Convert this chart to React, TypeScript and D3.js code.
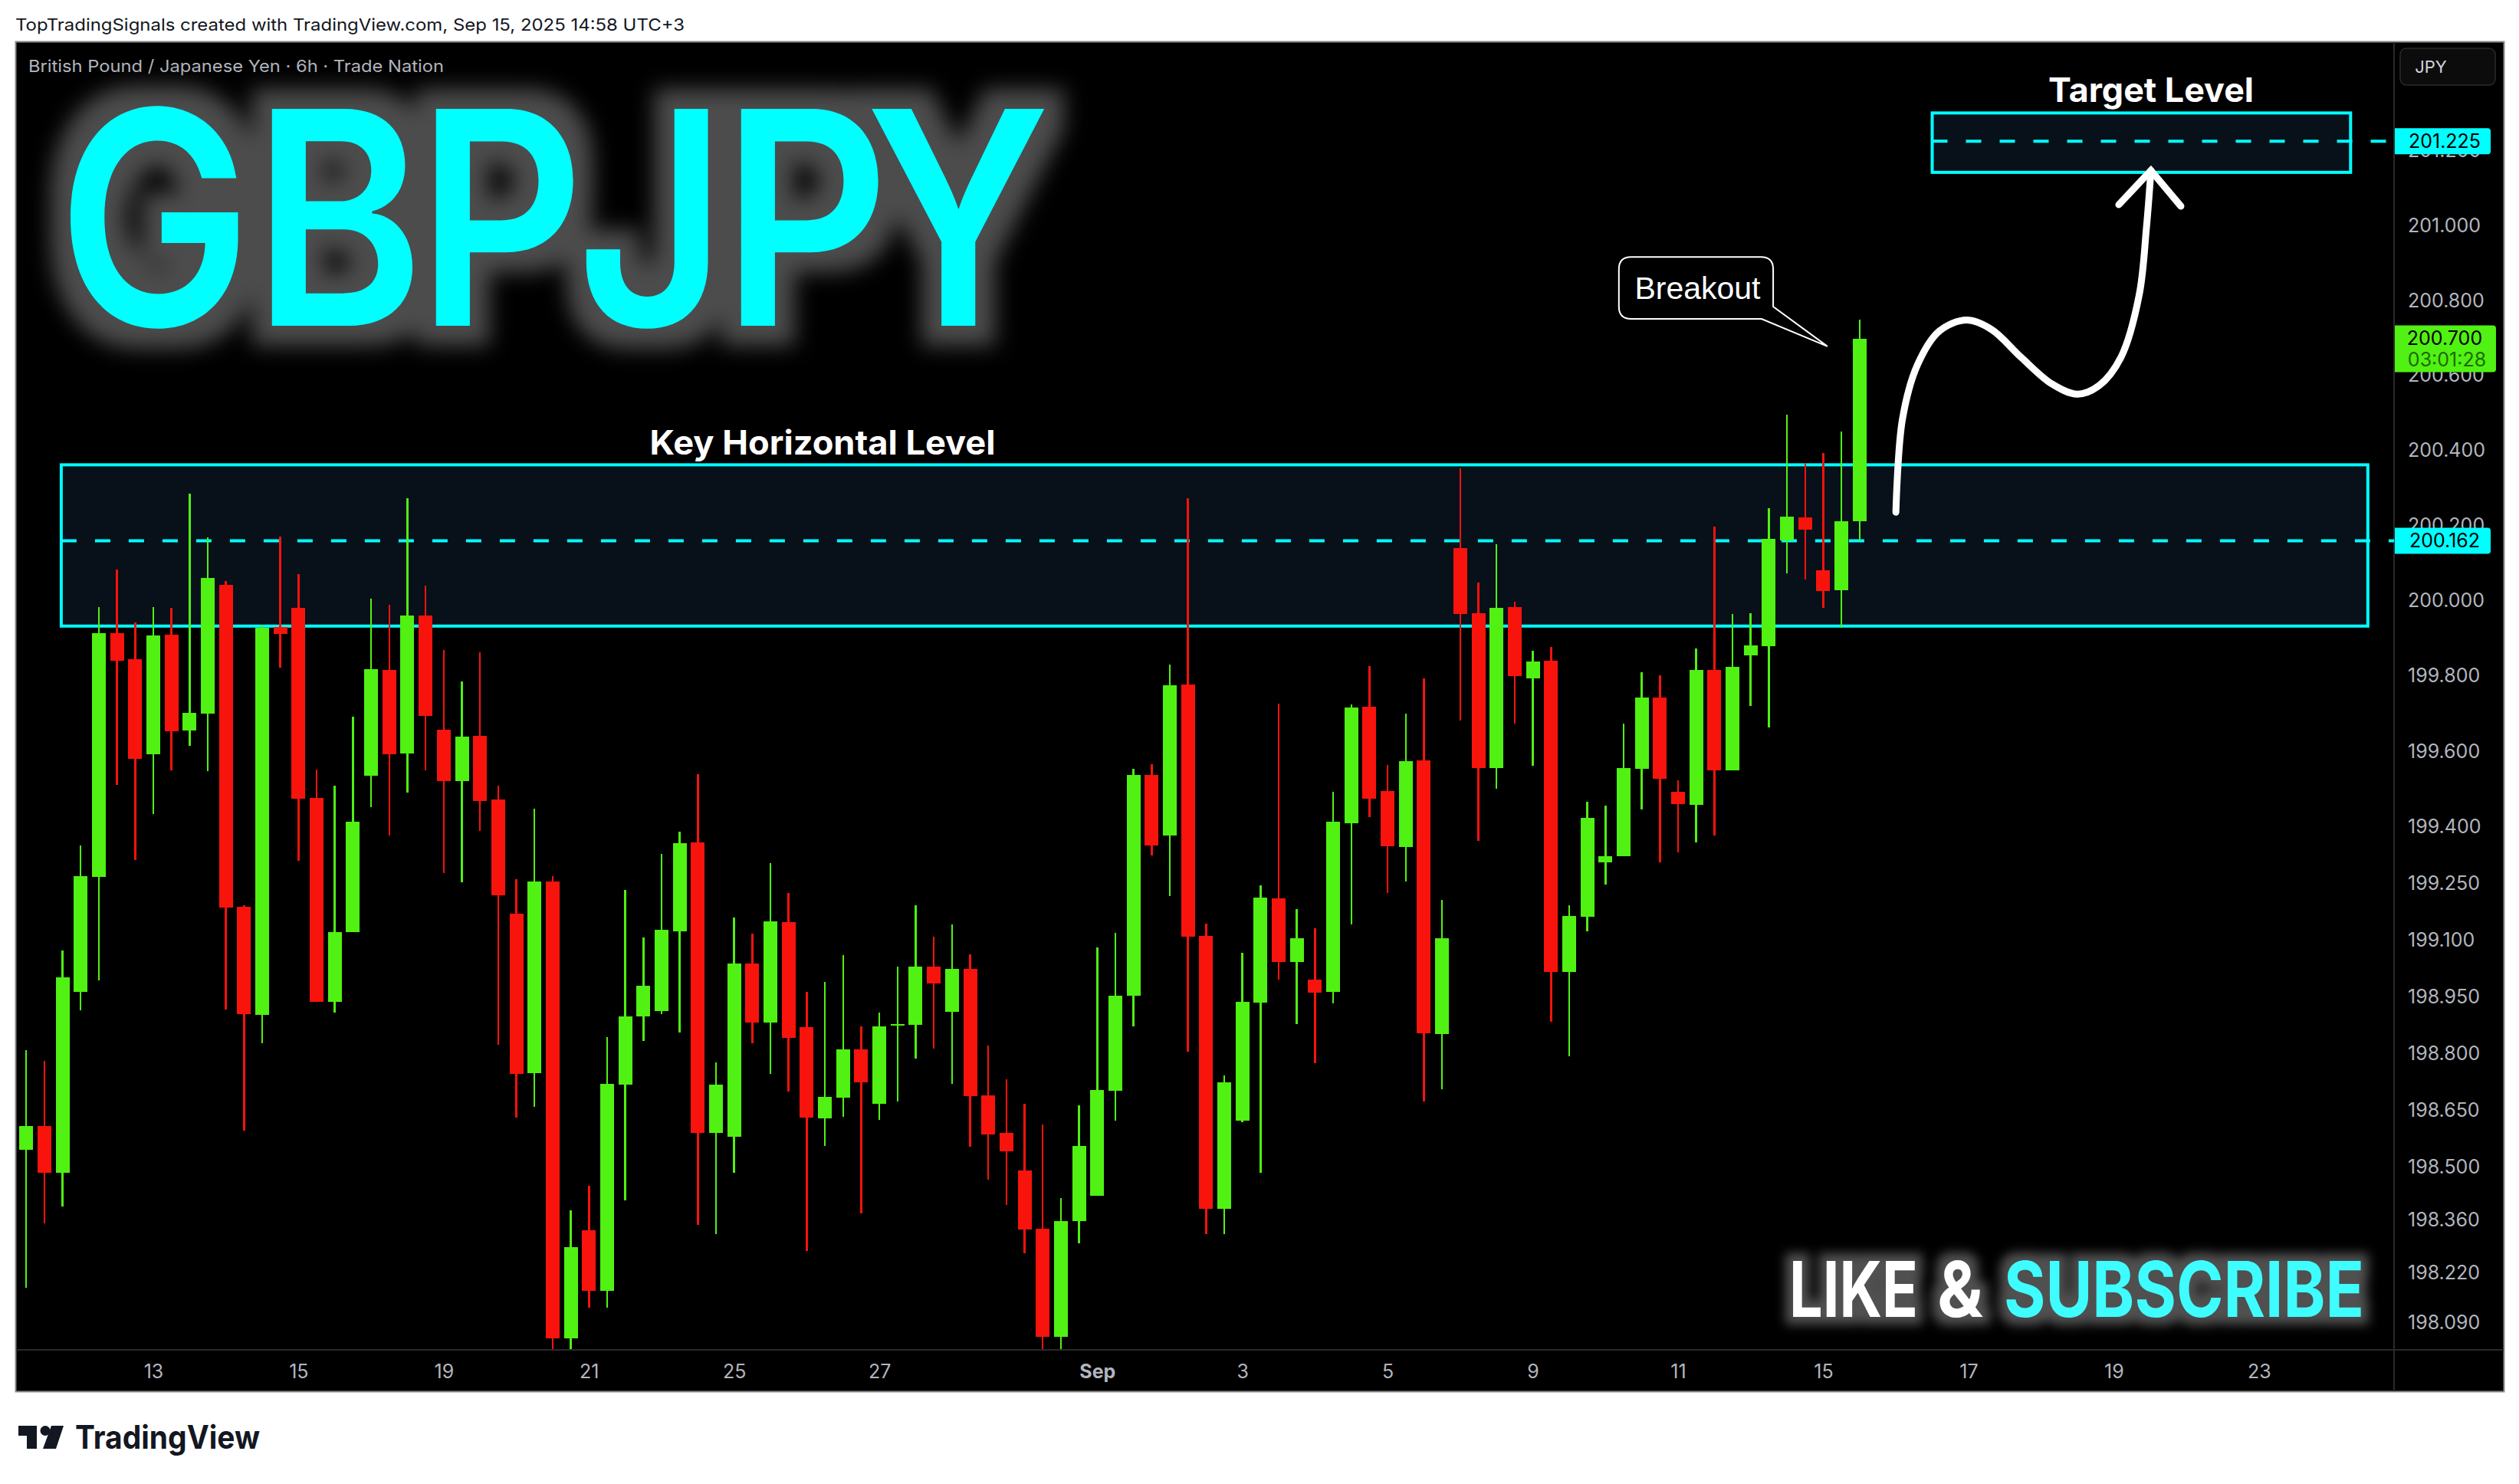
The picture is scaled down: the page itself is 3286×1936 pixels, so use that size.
import { useEffect, useRef } from 'react';
import * as d3 from 'd3';

const WIDTH = 3286;
const HEIGHT = 1936;

// 6h candles, oldest first
const opens = [
  198.542, 198.605, 198.481, 198.962, 199.268, 199.916, 199.847, 199.594, 199.912, 199.657, 199.702, 200.044, 199.189, 198.901, 199.932, 199.983, 199.477, 198.936, 199.121, 199.537, 199.818, 199.596, 199.963, 199.659, 199.522, 199.643,
  199.473, 199.170, 198.746, 199.256, 198.040, 198.328, 198.167, 198.715, 198.897, 198.911, 199.123, 199.360, 198.587, 198.577, 199.038, 198.881, 199.148, 198.869, 198.626, 198.681, 198.809, 198.664, 198.872, 198.875, 199.030, 198.909,
  199.024, 198.687, 198.587, 198.487, 198.332, 198.044, 198.352, 198.420, 198.699, 198.952, 199.539, 199.377, 199.779, 199.111, 198.385, 198.619, 198.934, 199.211, 199.042, 198.995, 198.962, 199.410, 199.720, 199.496, 199.347, 199.577,
  198.850, 200.142, 199.969, 199.557, 199.985, 199.796, 199.843, 199.015, 199.162, 199.306, 199.322, 199.555, 199.745, 199.494, 199.459, 199.818, 199.551, 199.857, 199.881, 200.163, 200.224, 200.083, 200.030, 200.214,
];
const highs = [
  198.807, 198.779, 199.072, 199.352, 199.985, 200.085, 199.945, 199.985, 199.983, 200.287, 200.171, 200.055, 199.193, 199.938, 200.173, 200.073, 199.553, 199.510, 199.694, 200.008, 199.992, 200.275, 200.042, 199.871, 199.787, 199.865,
  199.510, 199.262, 199.449, 199.270, 198.381, 198.446, 198.842, 199.234, 199.107, 199.329, 199.388, 199.541, 198.775, 199.160, 199.117, 199.305, 199.225, 198.962, 198.989, 199.060, 198.870, 198.907, 199.030, 199.193, 199.109, 199.142,
  199.062, 198.820, 198.730, 198.664, 198.609, 198.413, 198.660, 199.081, 199.119, 199.555, 199.567, 199.832, 200.275, 199.144, 198.740, 199.066, 199.246, 199.728, 199.183, 199.132, 199.494, 199.726, 199.828, 199.565, 199.702, 199.796,
  199.207, 200.355, 200.051, 200.153, 200.000, 199.869, 199.879, 199.193, 199.467, 199.457, 199.675, 199.812, 199.804, 199.524, 199.875, 200.200, 199.967, 199.969, 200.248, 200.497, 200.369, 200.395, 200.453, 200.751,
];
const lows = [
  198.175, 198.346, 198.391, 198.913, 198.993, 199.512, 199.313, 199.435, 199.551, 199.616, 199.549, 198.915, 198.593, 198.826, 199.824, 199.311, 198.936, 198.907, 199.121, 199.453, 199.377, 199.492, 199.551, 199.278, 199.254, 199.390,
  198.822, 198.628, 198.656, 198.012, 198.012, 198.122, 198.122, 198.407, 198.832, 198.903, 198.854, 198.342, 198.318, 198.481, 198.826, 198.744, 198.697, 198.273, 198.552, 198.630, 198.373, 198.621, 198.670, 198.785, 198.811, 198.717,
  198.550, 198.462, 198.395, 198.267, 198.012, 198.012, 198.293, 198.420, 198.619, 198.870, 199.325, 199.217, 198.803, 198.318, 198.318, 198.615, 198.481, 198.995, 198.877, 198.772, 198.932, 199.142, 199.426, 199.225, 199.256, 198.670,
  198.703, 199.683, 199.364, 199.502, 199.675, 199.563, 198.883, 198.791, 199.123, 199.248, 199.322, 199.447, 199.306, 199.333, 199.360, 199.377, 199.551, 199.722, 199.665, 200.075, 200.059, 199.983, 199.930, 200.163,
];
const closes = [
  198.605, 198.481, 199.001, 199.270, 199.916, 199.843, 199.581, 199.910, 199.655, 199.704, 200.063, 199.187, 198.903, 199.930, 199.914, 199.475, 198.936, 199.121, 199.414, 199.820, 199.594, 199.963, 199.696, 199.522, 199.641, 199.469,
  199.219, 198.744, 199.256, 198.040, 198.283, 198.167, 198.717, 198.897, 198.979, 199.127, 199.358, 198.587, 198.715, 199.038, 198.881, 199.150, 198.840, 198.628, 198.683, 198.809, 198.722, 198.870, 198.877, 199.030, 198.985, 199.024,
  198.685, 198.583, 198.538, 198.330, 198.044, 198.352, 198.552, 198.701, 198.952, 199.539, 199.352, 199.777, 199.109, 198.385, 198.722, 198.936, 199.213, 199.042, 199.105, 198.960, 199.414, 199.718, 199.475, 199.350, 199.575, 198.852,
  199.105, 199.967, 199.557, 199.983, 199.802, 199.841, 199.015, 199.164, 199.424, 199.322, 199.557, 199.745, 199.528, 199.461, 199.818, 199.551, 199.826, 199.883, 200.167, 200.226, 200.191, 200.028, 200.214, 200.700,
];

const priceTicks = [201.2, 201, 200.8, 200.6, 200.4, 200.2, 200, 199.8, 199.6, 199.4, 199.25, 199.1, 198.95, 198.8, 198.65, 198.5, 198.36, 198.22, 198.09];
const timeTickBars = [7, 15, 23, 31, 39, 47, 59, 67, 75, 83, 91, 99, 107, 115, 123];
const timeTickLabels = ['13', '15', '19', '21', '25', '27', 'Sep', '3', '5', '9', '11', '15', '17', '19', '23'];

// drawn zones: [first bar, last bar], [top price, bottom price]
const keyZoneBars = [1.93, 129];
const keyZonePrices = [200.364, 199.935];
const keyLevel = 200.162;
const targetZoneBars = [105, 128.05];
const targetZonePrices = [201.3, 201.142];
const targetLevel = 201.225;
const lastPrice = 200.7;

// projected path: [bar, price]
const pathPoints: [number, number][] = [
  [103, 200.238], [103.36, 200.485], [104.2, 200.631], [105.4, 200.72], [106.9, 200.749], [108.27, 200.724], [109.9, 200.65],
  [111.6, 200.579], [113, 200.552], [114.2, 200.575], [115.4, 200.65], [116.4, 200.815], [116.8, 200.993], [117.05, 201.147],
];
const arrowHead: [number, number][] = [[115.28, 201.056], [117.05, 201.147], [118.7, 201.052]];

const GREEN = '#50f113';
const RED = '#f8130d';
const CYAN = '#00ffff';
const ZONE_FILL = '#08101a';
const AXIS_TEXT = '#b2b5be';
const SANS = 'Inter, "Liberation Sans", sans-serif';

// left edge of each title letter, so the string stays one text
const titleStarts = [75, 330, 544, 752, 942, 1129];
const TITLE_SQUEEZE = 0.87;

export default function App() {
  const svgRef = useRef<SVGSVGElement>(null);

  useEffect(() => {
    if (!svgRef.current) return;
    const svg = d3.select(svgRef.current);
    svg.selectAll('*').remove();

    const pane = { left: 21, right: 3123, top: 55, bottom: 1761, outerRight: 3266, outerBottom: 1815 };

    const x = d3.scaleLinear().domain([0, 101]).range([34.2, 2425.8]);
    const y = d3.scaleLinear().domain([201, 198]).range([294.5, 1765.7]);
    // the TradingView price axis is logarithmic, its labels sit a little lower near the bottom
    const axisY = d3.scaleLog().domain([201, 198.09]).range([294.5, 1725]);

    const defs = svg.append('defs');
    defs.append('clipPath').attr('id', 'pane-clip').append('rect')
      .attr('x', pane.left).attr('y', pane.top)
      .attr('width', pane.right - pane.left).attr('height', pane.bottom - pane.top);

    const addGlow = (id: string, radius: number, blur: number, tone: string) => {
      const f = defs.append('filter').attr('id', id)
        .attr('x', '-15%').attr('y', '-60%').attr('width', '130%').attr('height', '220%')
        .attr('color-interpolation-filters', 'sRGB');
      f.append('feMorphology').attr('in', 'SourceAlpha').attr('operator', 'dilate').attr('radius', radius).attr('result', 'fat');
      f.append('feGaussianBlur').attr('in', 'fat').attr('stdDeviation', blur).attr('result', 'soft');
      f.append('feFlood').attr('flood-color', tone).attr('result', 'tone');
      f.append('feComposite').attr('in', 'tone').attr('in2', 'soft').attr('operator', 'in').attr('result', 'halo');
      const merge = f.append('feMerge');
      merge.append('feMergeNode').attr('in', 'halo');
      merge.append('feMergeNode').attr('in', 'SourceGraphic');
    };
    addGlow('glow-big', 26, 14, '#4c4c4c');
    addGlow('glow-small', 10, 7, '#505050');

    // Frame
    svg.append('rect').attr('width', WIDTH).attr('height', HEIGHT).attr('fill', '#fff');
    svg.append('rect')
      .attr('x', pane.left - 0.5).attr('y', pane.top - 0.5)
      .attr('width', pane.outerRight - pane.left + 1).attr('height', pane.outerBottom - pane.top + 1)
      .attr('fill', '#000').attr('stroke', '#8a8a8a').attr('stroke-width', 2);
    svg.append('line').attr('x1', pane.right).attr('x2', pane.right).attr('y1', pane.top).attr('y2', pane.outerBottom)
      .attr('stroke', '#2a2a2a').attr('stroke-width', 2);
    svg.append('line').attr('x1', pane.left).attr('x2', pane.outerRight).attr('y1', pane.bottom).attr('y2', pane.bottom)
      .attr('stroke', '#2a2a2a').attr('stroke-width', 2);

    // Header texts
    svg.append('text').attr('x', 20).attr('y', 40).attr('fill', '#131722')
      .style('font-family', SANS).style('font-size', '22px')
      .attr('textLength', 873).attr('lengthAdjust', 'spacingAndGlyphs')
      .text('TopTradingSignals created with TradingView.com, Sep 15, 2025 14:58 UTC+3');
    svg.append('text').attr('x', 37).attr('y', 94).attr('fill', AXIS_TEXT)
      .style('font-family', SANS).style('font-size', '22px')
      .attr('textLength', 542).attr('lengthAdjust', 'spacingAndGlyphs')
      .text('British Pound / Japanese Yen · 6h · Trade Nation');

    // Big symbol title
    svg.append('g').attr('filter', 'url(#glow-big)').append('text')
      .attr('transform', `scale(${TITLE_SQUEEZE},1)`)
      .attr('x', titleStarts.map((v) => v / TITLE_SQUEEZE).join(' ')).attr('y', 425).attr('fill', CYAN)
      .style('font-family', SANS).style('font-size', '389px').style('font-weight', 600)
      .text('GBPJPY');

    // Zones under the candles
    const drawZone = (bars: number[], prices: number[]) => {
      svg.append('rect')
        .attr('x', x(bars[0])).attr('y', y(prices[0]))
        .attr('width', x(bars[1]) - x(bars[0])).attr('height', y(prices[1]) - y(prices[0]))
        .attr('fill', ZONE_FILL).attr('stroke', CYAN).attr('stroke-width', 4);
    };
    const drawLevel = (bar: number, price: number) => {
      svg.append('line')
        .attr('x1', x(bar)).attr('x2', pane.right).attr('y1', y(price)).attr('y2', y(price))
        .attr('stroke', CYAN).attr('stroke-width', 4).attr('stroke-dasharray', '20,24');
    };
    drawZone(keyZoneBars, keyZonePrices);
    drawLevel(keyZoneBars[0], keyLevel);
    drawZone(targetZoneBars, targetZonePrices);
    drawLevel(targetZoneBars[0], targetLevel);

    // Candles
    const candles = svg.append('g').attr('clip-path', 'url(#pane-clip)').attr('shape-rendering', 'crispEdges');
    const indices = d3.range(opens.length);
    const color = (i: number) => (closes[i] >= opens[i] ? GREEN : RED);
    candles.selectAll('.wick').data(indices).join('rect')
      .attr('class', 'wick')
      .attr('x', (i: number) => x(i) - 1.25).attr('width', 2.5)
      .attr('y', (i: number) => y(highs[i]))
      .attr('height', (i: number) => y(lows[i]) - y(highs[i]))
      .attr('fill', color);
    candles.selectAll('.body').data(indices).join('rect')
      .attr('class', 'body')
      .attr('x', (i: number) => x(i) - 9).attr('width', 18)
      .attr('y', (i: number) => y(Math.max(opens[i], closes[i])))
      .attr('height', (i: number) => Math.max(2, Math.abs(y(opens[i]) - y(closes[i]))))
      .attr('fill', color);

    // Zone captions
    svg.append('text').attr('x', 1073).attr('y', 593).attr('text-anchor', 'middle').attr('fill', '#fff')
      .style('font-family', SANS).style('font-size', '44px').style('font-weight', 700)
      .attr('textLength', 451).attr('lengthAdjust', 'spacingAndGlyphs')
      .text('Key Horizontal Level');
    svg.append('text').attr('x', 2806).attr('y', 133).attr('text-anchor', 'middle').attr('fill', '#fff')
      .style('font-family', SANS).style('font-size', '44px').style('font-weight', 700)
      .attr('textLength', 268).attr('lengthAdjust', 'spacingAndGlyphs')
      .text('Target Level');

    // Breakout callout
    const bx0 = x(87.74), bx1 = x(96.24), by0 = y(200.917), by1 = y(200.752);
    const r = 16;
    svg.append('path')
      .attr('d', `M${bx0 + r},${by0} H${bx1 - r} Q${bx1},${by0} ${bx1},${by0 + r} V${y(200.785)} L${x(99.23)},${y(200.679)} L${x(95.6)},${by1} H${bx0 + r} Q${bx0},${by1} ${bx0},${by1 - r} V${by0 + r} Q${bx0},${by0} ${bx0 + r},${by0} Z`)
      .attr('fill', '#000').attr('stroke', '#fff').attr('stroke-width', 2);
    svg.append('text').attr('x', (bx0 + bx1) / 2 + 2).attr('y', 390).attr('text-anchor', 'middle').attr('fill', '#fff')
      .style('font-family', '"Liberation Sans", sans-serif').style('font-size', '41px')
      .text('Breakout');

    // Projected move
    const line = d3.line<[number, number]>().x((d) => x(d[0])).y((d) => y(d[1]));
    svg.append('path').attr('d', line.curve(d3.curveCatmullRom)(pathPoints))
      .attr('fill', 'none').attr('stroke', '#fff').attr('stroke-width', 9).attr('stroke-linecap', 'round');
    svg.append('path').attr('d', line.curve(d3.curveLinear)(arrowHead))
      .attr('fill', 'none').attr('stroke', '#fff').attr('stroke-width', 9)
      .attr('stroke-linecap', 'round').attr('stroke-linejoin', 'miter');

    // Like & subscribe
    const promoParts: [string, number, number, string][] = [
      ['LIKE', 2334, 168, '#fff'], ['&', 2527, 60, '#fff'], ['SUBSCRIBE', 2614, 470, '#3ffdff'],
    ];
    const promoText = svg.append('g').attr('filter', 'url(#glow-small)');
    promoParts.forEach(([label, px, w, fill]) => {
      promoText.append('text')
        .attr('x', px).attr('y', 1718)
        .attr('textLength', w).attr('lengthAdjust', 'spacingAndGlyphs')
        .attr('fill', fill)
        .style('font-family', SANS).style('font-size', '100px').style('font-weight', 700)
        .text(label);
    });

    // Price axis
    const priceAxis = svg.append('g').attr('transform', `translate(${pane.right},0)`);
    priceAxis.call(d3.axisRight(axisY).tickValues(priceTicks).tickFormat(d3.format('.3f')).tickSize(0).tickPadding(18));
    priceAxis.select('.domain').remove();
    priceAxis.selectAll('text')
      .style('fill', AXIS_TEXT).style('font-size', '25px').style('font-family', SANS);

    // Time axis
    const timeAxis = svg.append('g').attr('transform', `translate(0,${pane.bottom})`);
    timeAxis.call(d3.axisBottom(x).tickValues(timeTickBars)
      .tickFormat((_d: d3.NumberValue, i: number) => timeTickLabels[i]).tickSize(0).tickPadding(19));
    timeAxis.select('.domain').remove();
    timeAxis.selectAll('text')
      .style('fill', AXIS_TEXT).style('font-size', '25px').style('font-family', SANS)
      .style('font-weight', (_d: unknown, i: number) => (timeTickLabels[i] === 'Sep' ? 700 : 400));

    // Price tags
    const drawTag = (price: number, label: string) => {
      const ty = y(price);
      svg.append('path')
        .attr('d', `M${pane.right + 1},${ty - 17} H3245 Q3249,${ty - 17} 3249,${ty - 13} V${ty + 13} Q3249,${ty + 17} 3245,${ty + 17} H${pane.right + 1} Z`)
        .attr('fill', CYAN);
      svg.append('text').attr('x', 3189).attr('y', ty + 9).attr('text-anchor', 'middle').attr('fill', '#000')
        .style('font-family', SANS).style('font-size', '25px').text(label);
    };
    drawTag(targetLevel, d3.format('.3f')(targetLevel));
    drawTag(keyLevel, d3.format('.3f')(keyLevel));

    const lastY = y(lastPrice);
    svg.append('path')
      .attr('d', `M${pane.right + 1},${lastY - 17} H3252 Q3256,${lastY - 17} 3256,${lastY - 13} V${lastY + 40} Q3256,${lastY + 44} 3252,${lastY + 44} H${pane.right + 1} Z`)
      .attr('fill', GREEN);
    svg.append('text').attr('x', 3189).attr('y', lastY + 8).attr('text-anchor', 'middle').attr('fill', '#000')
      .style('font-family', SANS).style('font-size', '25px').text(d3.format('.3f')(lastPrice));
    svg.append('text').attr('x', 3192).attr('y', lastY + 36).attr('text-anchor', 'middle').attr('fill', '#1f6a06')
      .style('font-family', SANS).style('font-size', '25px').text('03:01:28');

    // Currency button
    svg.append('rect').attr('x', 3131).attr('y', 63).attr('width', 124).attr('height', 48).attr('rx', 8)
      .attr('fill', '#0c0c0c').attr('stroke', '#2a2a2a').attr('stroke-width', 1.5);
    svg.append('text').attr('x', 3171).attr('y', 95).attr('text-anchor', 'middle').attr('fill', '#d1d4dc')
      .style('font-family', SANS).style('font-size', '22px').text('JPY');

    // TradingView logo
    const logo = svg.append('g').attr('fill', '#131722');
    logo.append('path').attr('d', 'M24,1860 H48 V1890 H35 V1873 H24 Z');
    logo.append('circle').attr('cx', 59).attr('cy', 1866.5).attr('r', 6.5);
    logo.append('path').attr('d', 'M67,1860 H83 L73,1890 H56 Z');
    logo.append('text').attr('x', 98).attr('y', 1890)
      .style('font-family', SANS).style('font-size', '42px').style('font-weight', 700)
      .attr('textLength', 241).attr('lengthAdjust', 'spacingAndGlyphs')
      .text('TradingView');
  }, []);

  return <svg ref={svgRef} width={WIDTH} height={HEIGHT} style={{ position: 'absolute', left: 0, top: 0, display: 'block' }} />;
}
